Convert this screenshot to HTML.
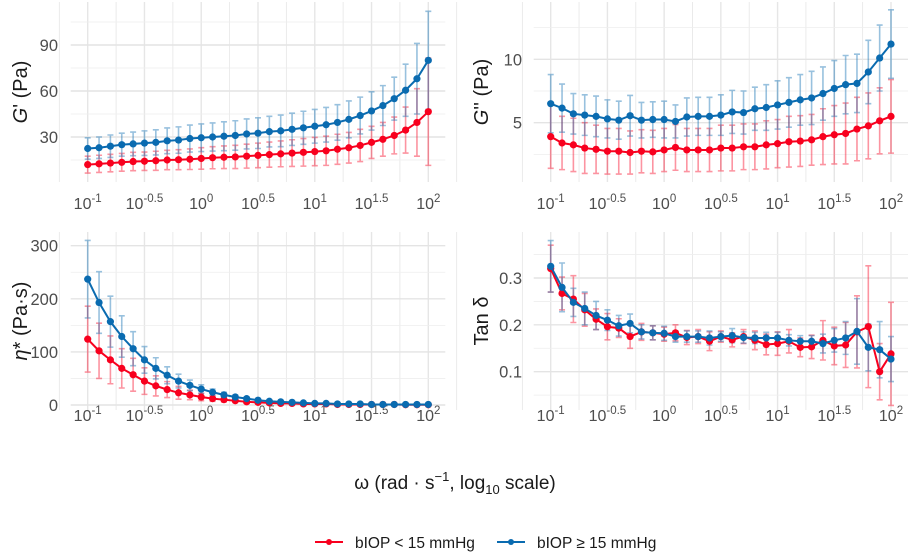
<!DOCTYPE html>
<html><head><meta charset="utf-8"><style>
body{margin:0;background:#fff;width:913px;height:553px;overflow:hidden;font-family:"Liberation Sans",sans-serif}
svg text{font-family:"Liberation Sans",sans-serif}
</style></head><body>
<svg id="c" width="913" height="553" xmlns="http://www.w3.org/2000/svg"></svg>
<script>
const logW=[];for(let i=0;i<=30;i++)logW.push(-1+i*0.1);
const xTicks=[-1,-0.5,0,0.5,1,1.5,2];
const xTickLabels=["-1","-0.5","0","0.5","1","1.5","2"];
const gpRed=[12,12.5,13,13.5,14,14.2,14.5,15,15.2,15.5,16,16.5,16.8,17,17.5,18,18.5,19,19.5,20,20.5,21,22,23,24.5,26.5,28.5,31,34.5,39.5,46.5];
const gpRedSd=[5.5,5.6,5.7,5.8,6,6,6.2,6.3,6.5,6.7,7,7.2,7.4,7.6,7.8,8,8.2,8.4,8.7,9,9.2,9.5,9.8,10,10.5,10.5,11,12,15,22,35];
const gpBlue=[22.5,23,24,25,25.5,26,26.5,27.5,28,29,29.5,30,30.5,31,32,32.5,33.5,34,35,36,37,38,39.5,41.5,44,47,50.5,55,60.5,68,80];
const gpBlueSd=[7,7,7.3,7.5,7.7,8,8.2,8.4,8.6,8.8,9,9.2,9.4,9.6,9.8,10,10,10.3,10.5,10.8,11,11.3,11.6,12,12,12.5,13,14,17,23,32];
const gppRed=[3.9,3.4,3.25,3.0,2.9,2.75,2.75,2.65,2.75,2.7,2.85,3.05,2.85,2.85,2.85,3.0,3.0,3.1,3.1,3.25,3.35,3.5,3.55,3.65,3.9,4.05,4.15,4.5,4.75,5.15,5.5];
const gppRedSd=[2.5,2.1,2.1,2.0,1.9,1.8,1.8,1.7,1.7,1.7,1.7,1.8,1.7,1.7,1.7,1.8,1.8,1.8,1.8,1.9,1.9,2.0,2.0,2.0,2.2,2.3,2.4,2.5,2.6,2.6,2.9];
const gppBlue=[6.5,6.15,5.7,5.6,5.5,5.3,5.2,5.55,5.2,5.25,5.25,5.1,5.45,5.5,5.5,5.6,5.85,5.8,6.1,6.2,6.4,6.6,6.8,6.95,7.3,7.7,8.0,8.1,9.0,10.1,11.2];
const gppBlueSd=[2.3,1.9,1.6,1.6,1.6,1.5,1.5,1.6,1.4,1.4,1.45,1.3,1.5,1.5,1.5,1.6,1.7,1.7,1.7,1.8,1.9,1.95,2.0,2.1,2.1,2.2,2.3,2.3,2.5,2.6,2.7];
const etaRed=[124,102,85,69,57,45,36,29,23,19,15,12,10,8,6,5,4,3,3,2,2,2,1,1,1,1,1,1,0.5,0.5,0.5];
const etaRedSd=[62,52,45,37,31,25,19,15,12,9,7,5,4,3,2,2,1,1,1,1,1,1,0,0,0,0,0,0,0,0,0];
const etaBlue=[237,193,157,129,106,85,69,56,45,37,30,24,19,15,12,9,7,6,5,4,3,3,2,2,2,1,1,1,1,1,1];
const etaBlueSd=[73,58,48,39,32,25,20,16,13,10,8,6,5,4,3,2,2,1,1,1,1,1,1,0,0,0,0,0,0,0,0];
const tanRed=[0.32,0.267,0.255,0.232,0.212,0.196,0.193,0.175,0.185,0.183,0.18,0.183,0.173,0.175,0.165,0.175,0.168,0.175,0.167,0.158,0.16,0.165,0.152,0.153,0.167,0.155,0.157,0.185,0.196,0.100,0.138];
const tanRedSd=[0.05,0.035,0.05,0.035,0.022,0.028,0.02,0.025,0.018,0.015,0.015,0.017,0.015,0.015,0.02,0.012,0.015,0.015,0.02,0.022,0.025,0.025,0.02,0.025,0.042,0.04,0.048,0.077,0.13,0.06,0.11];
const tanBlue=[0.325,0.28,0.248,0.235,0.22,0.21,0.198,0.203,0.185,0.183,0.182,0.175,0.175,0.175,0.172,0.175,0.177,0.173,0.172,0.172,0.172,0.167,0.165,0.165,0.16,0.167,0.172,0.186,0.152,0.147,0.127];
const tanBlueSd=[0.055,0.052,0.03,0.035,0.03,0.022,0.022,0.02,0.015,0.015,0.015,0.012,0.012,0.012,0.015,0.01,0.015,0.012,0.012,0.012,0.012,0.012,0.012,0.012,0.02,0.025,0.035,0.07,0.05,0.06,0.048];

const RED="#f8001e",BLUE="#0a6bb0";
const svg=document.getElementById('c');const NS="http://www.w3.org/2000/svg";
function mk(t,a,p){const e=document.createElementNS(NS,t);for(const k in a)e.setAttribute(k,a[k]);(p||svg).appendChild(e);return e;}

const panels=[
 {name:"g-prime",x0:87.7,x1:428.3,top:2,bot:182,v0:30,p0:137,v1:90,p1:45,ticks:[30,60,90],minor:[15,45,75,105],labels:["30","60","90"],tlx:58,title:["G","' (Pa)"],tx:27,red:gpRed,rsd:gpRedSd,blue:gpBlue,bsd:gpBlueSd,xl:200},
 {name:"g-double-prime",x0:550.7,x1:891,top:2,bot:182,v0:5,p0:122.7,v1:10,p1:59.3,ticks:[5,10],minor:[2.5,7.5,12.5],labels:["5","10"],tlx:522,title:["G","'' (Pa)"],tx:488,red:gppRed,rsd:gppRedSd,blue:gppBlue,bsd:gppBlueSd,xl:200},
 {name:"eta-star",x0:87.7,x1:428.3,top:232,bot:410,v0:0,p0:405,v1:300,p1:245.7,ticks:[0,100,200,300],minor:[50,150,250],labels:["0","100","200","300"],tlx:58,title:["η","* (Pa·s)"],tx:27,red:etaRed,rsd:etaRedSd,blue:etaBlue,bsd:etaBlueSd,xl:412},
 {name:"tan-delta",x0:550.7,x1:891,top:232,bot:410,v0:0.1,p0:371.7,v1:0.3,p1:278,ticks:[0.1,0.2,0.3],minor:[0.05,0.15,0.25,0.35],labels:["0.1","0.2","0.3"],tlx:522,title:["","Tan δ"],tx:488,red:tanRed,rsd:tanRedSd,blue:tanBlue,bsd:tanBlueSd,xl:412}
];
panels.forEach(P=>{
 const g=mk('g',{});
 
 
 const xs=v=>P.x0+(v+1)/3*(P.x1-P.x0);
 const ys=v=>P.p0+(v-P.v0)/(P.v1-P.v0)*(P.p1-P.p0);
 const L=P.x0-17,R=P.x1+17;
 for(let v=-1.25;v<=2.26;v+=0.25){const maj=Math.abs(v*2-Math.round(v*2))<1e-6;
  mk('line',{x1:xs(v),x2:xs(v),y1:P.top,y2:P.bot,stroke:"#e6e6e6","stroke-width":maj?1.4:0.8},g);}
 P.minor.forEach(v=>mk('line',{x1:L,x2:R,y1:ys(v),y2:ys(v),stroke:"#eeeeee","stroke-width":0.8},g));
 P.ticks.forEach((v,i)=>{mk('line',{x1:L,x2:R,y1:ys(v),y2:ys(v),stroke:"#e4e4e4","stroke-width":1.4},g);
  const t=mk('text',{x:P.tlx,y:ys(v)+6,"text-anchor":"end","font-size":16.5,fill:"#4d4d4d"},g);t.textContent=P.labels[i];
  });
 xTicks.forEach((v,i)=>{const t=mk('text',{x:xs(v),y:P.xl+9,"text-anchor":"middle","font-size":16,fill:"#4d4d4d"},g);
  
  const a=mk('tspan',{},t);a.textContent="10";
  const s=mk('tspan',{dy:-7,"font-size":11.5},t);s.textContent=xTickLabels[i];});
 const cy=(P.top+P.bot)/2;
 const tt=mk('text',{transform:`translate(${P.tx},${cy}) rotate(-90)`,"text-anchor":"middle","font-size":20,fill:"#1a1a1a"},g);
 
 if(P.title[0]){const a=mk('tspan',{"font-style":"italic"},tt);a.textContent=P.title[0];}
 const b=mk('tspan',{},tt);b.textContent=P.title[1];
 [[P.red,P.rsd,RED,"red"],[P.blue,P.bsd,BLUE,"blue"]].forEach(([vals,sd,col,nm])=>{
  vals.forEach((v,i)=>{const x=xs(logW[i]);const lo=ys(v-sd[i]),hi=ys(v+sd[i]);
   const e=mk('path',{d:`M${x},${lo}V${hi}M${x-3},${lo}H${x+3}M${x-3},${hi}H${x+3}`,stroke:col,"stroke-opacity":0.42,"stroke-width":1.6,fill:"none"},g);
   });
 });
 [[P.red,RED,"red"],[P.blue,BLUE,"blue"]].forEach(([vals,col,nm])=>{
  const ln=mk('polyline',{points:vals.map((v,i)=>xs(logW[i])+","+ys(v)).join(" "),fill:"none",stroke:col,"stroke-width":2},g);
  
  vals.forEach((v,i)=>{const c=mk('circle',{cx:xs(logW[i]),cy:ys(v),r:3.6,fill:col},g);
   });
 });
});
const xt=mk('text',{x:455,y:489,"text-anchor":"middle","font-size":19,fill:"#1a1a1a"});

xt.innerHTML='ω (rad · s<tspan dy="-8" font-size="13">−1</tspan><tspan dy="8">, log</tspan><tspan dy="5" font-size="13">10</tspan><tspan dy="-5"> scale)</tspan>';
[[315,RED,"bIOP < 15 mmHg","legend-entry-low"],[497,BLUE,"bIOP ≥ 15 mmHg","legend-entry-high"]].forEach(([x,col,lab,nm])=>{
 const g=mk('g',{});
 mk('line',{x1:x,x2:x+28,y1:542,y2:542,stroke:col,"stroke-width":2},g);
 mk('circle',{cx:x+14,cy:542,r:3,fill:col},g);
 const t=mk('text',{x:x+40,y:548,"font-size":15.5,fill:"#1a1a1a"},g);t.textContent=lab;
});
</script>
</body></html>
